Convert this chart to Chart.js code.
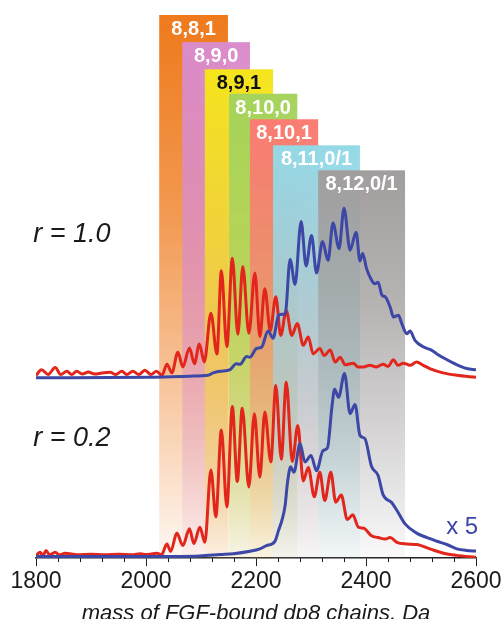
<!DOCTYPE html>
<html>
<head>
<meta charset="utf-8">
<script src="https://cdn.jsdelivr.net/npm/chart.js@4/dist/chart.umd.min.js"></script>
<style>
  html, body { margin: 0; padding: 0; background: #fff; }
</style>
</head>
<body>
<canvas id="chart" width="502" height="619"></canvas>
<script>
// masses in Da, intensities in arbitrary units (0..100 = full plot height)
// the r = 1.0 traces sit on a shifted baseline
const TOP_OFFSET = 33;

const topRedMass = [1800,1810,1822,1835,1845,1856,1865,1874,1884,1895,1907,1920,1935,1945,1956,1965,1976,1987,1998,2009,2019,2029,2038,2047,2058,2067,2079,2088,2097,2106,2118,2129,2137,2147,2157,2167,2176,2187,2198,2207,2216,2226,2236,2245,2255,2265,2275,2286,2295,2304,2316,2324,2335,2344,2353,2362,2377,2385,2395,2407,2419,2431,2440,2450,2458,2468,2480,2492,2504,2516,2540,2565,2600];
const topRedInt = [0.6,1.7,0.8,2.1,0.8,1.4,0.8,1.4,0.9,1.25,0.9,1.1,1.2,0.8,1.4,0.8,1.4,0.8,1.6,0.8,1.4,0.65,2.7,1.1,4.9,2.2,5.7,2.8,6.4,3.1,12.1,4.6,19.9,5.9,22.2,8.2,20.7,8.4,19.5,7.8,16.6,8.9,15.1,8.0,12.6,8.0,10.2,6.2,7.7,4.6,5.6,4.3,5.3,3.1,4.0,2.6,2.9,2.2,2.2,2.5,2.2,2.7,2.3,3.5,2.5,2.9,2.5,3.1,2.5,1.9,1.1,0.65,0.3];

const topBlueMass = [1800,2007,2080,2113,2122,2135,2153,2164,2171,2183,2189,2201,2210,2222,2231,2241,2247,2253,2262,2271,2282,2291,2301,2310,2321,2331,2340,2351,2360,2371,2382,2389,2394,2401,2410,2416,2422,2429,2435,2444,2450,2459,2465,2474,2480,2489,2504,2519,2529,2544,2559,2583,2600];
const topBlueInt = [0.2,0.3,0.5,0.65,1.1,1.4,1.7,2.8,2.7,4.1,4.0,5.6,5.8,8.8,7.5,11.7,11.9,11.9,22.0,17.4,29.0,20.8,26.4,19.5,25.3,21.8,28.7,24.0,31.4,23.7,27.0,21.7,23.1,20.3,18.2,17.5,17.8,15.4,15.1,13.2,11.4,11.7,10.2,8.3,8.8,7.1,5.9,5.3,4.6,3.7,2.9,1.9,1.7];

const bottomRedMass = [1800,1807,1813,1818,1825,1835,1842,1853,1875,1900,1925,1950,1975,1990,2000,2020,2028,2038,2045,2056,2067,2079,2087,2098,2107,2118,2127,2137,2147,2157,2166,2175,2187,2197,2207,2216,2227,2236,2246,2255,2266,2276,2286,2295,2306,2316,2325,2336,2345,2355,2366,2376,2386,2396,2410,2422,2435,2444,2456,2474,2492,2516,2541,2565,2600];
const bottomRedInt = [0.45,1.1,0.45,1.4,0.6,1.1,0.6,0.9,0.6,0.7,0.6,0.7,0.6,0.8,0.65,0.9,0.6,2.6,1.25,4.6,2.3,5.4,2.7,5.7,2.9,16.2,7.6,23.6,9.4,27.9,14.1,27.6,13.1,26.6,14.9,26.9,17.7,31.8,18.2,32.4,17.8,24.4,14.2,16.7,11.3,15.8,10.6,15.8,10.3,11.6,7.1,8.0,5.7,5.5,4.1,3.8,3.5,3.8,2.9,2.6,2.5,1.7,0.9,0.5,0.15];

const bottomBlueMass = [1800,2007,2098,2135,2159,2189,2207,2219,2229,2235,2241,2247,2253,2257,2263,2269,2280,2289,2300,2310,2322,2330,2338,2343,2350,2361,2371,2380,2389,2398,2410,2422,2431,2447,2456,2471,2492,2510,2529,2547,2565,2583,2600];
const bottomBlueInt = [0.3,0.3,0.4,0.65,0.8,1.25,1.7,2.3,2.6,3.2,5.1,6.9,9.7,13.7,16.8,15.8,21.1,17.7,18.9,16.1,19.8,20.3,27.8,31.1,29.6,34.0,26.6,28.3,22.6,22.0,16.9,15.2,11.7,10.2,8.8,6.3,4.6,3.8,3.1,2.5,1.7,1.4,1.3];

// composition bands (mass windows) and where their label boxes start
const bandLabels = ["8,8,1", "8,9,0", "8,9,1", "8,10,0", "8,10,1", "8,11,0/1", "8,12,0/1"];
const bandFrom = [2024, 2066, 2107, 2151, 2189, 2231, 2313];
const bandTo = [2149, 2189, 2231, 2275, 2313, 2389, 2471];
const bandTop = [100, 95, 90, 85.5, 80.8, 76, 71.4];

const bandColors = ["#ee7a1c", "#da8ccb", "#f5e41c", "#a5d35c", "#fa7c72", "#95d9e6", "#a29e9e"];
const bandTextColors = ["#fff", "#fff", "#111", "#fff", "#fff", "#fff", "#fff"];

const RED = "#e2261c";
const BLUE = "#3c47a6";
const FONT = "'Liberation Sans', Arial, sans-serif";
const MINOR_STEP = 40;


function points(mass, values, offset = 0) {
    return mass.map((m, i) => ({ x: m, y: values[i] + offset }));
}

function rgba(hex, a) {
    var n = parseInt(hex.slice(1), 16);
    return "rgba(" + (n >> 16) + "," + ((n >> 8) & 255) + "," + (n & 255) + "," + a + ")";
}

function line(data, color) {
    return {
        data: data,
        borderColor: color,
        borderWidth: 3,
        pointRadius: 0,
        cubicInterpolationMode: "monotone",
        fill: false,
    };
}


// shaded composition windows with their labels on top
const bandsPlugin = {
    id: "bands",
    beforeDatasetsDraw(chart) {
        const ctx = chart.ctx;
        const x = chart.scales.x, y = chart.scales.y;
        const bottom = y.getPixelForValue(0);
        ctx.save();
        for (var i = 0; i < bandLabels.length; i++) {
            const left = x.getPixelForValue(bandFrom[i]);
            const right = x.getPixelForValue(bandTo[i]);
            const top = y.getPixelForValue(bandTop[i]);
            const grad = ctx.createLinearGradient(0, top, 0, bottom);
            grad.addColorStop(0, rgba(bandColors[i], 1));
            grad.addColorStop(0.35, rgba(bandColors[i], 0.78));
            grad.addColorStop(0.65, rgba(bandColors[i], 0.47));
            grad.addColorStop(1, rgba(bandColors[i], 0.06));
            ctx.fillStyle = grad;
            ctx.fillRect(left, top, right - left, bottom - top);

            ctx.fillStyle = bandTextColors[i];
            ctx.font = "bold 20px " + FONT;
            ctx.textAlign = "center";
            ctx.textBaseline = "middle";
            ctx.fillText(bandLabels[i], (left + right) / 2, y.getPixelForValue(bandTop[i] - 2.5) + 1);
        }
        ctx.restore();
    },
    afterDraw(chart) {
        const ctx = chart.ctx;
        const x = chart.scales.x, y = chart.scales.y;
        ctx.save();
        // minor ticks
        ctx.strokeStyle = "#222";
        ctx.lineWidth = 1;
        const axisY = x.top;
        for (var v = x.min; v <= x.max; v += MINOR_STEP) {
            if (v % 200 == 0)
                continue;
            const px = Math.round(x.getPixelForValue(v)) + 0.5;
            ctx.beginPath();
            ctx.moveTo(px, axisY);
            ctx.lineTo(px, axisY + 4);
            ctx.stroke();
        }
        // panel labels
        ctx.fillStyle = "#1a1a1a";
        ctx.font = "italic 27px " + FONT;
        ctx.textAlign = "left";
        ctx.textBaseline = "alphabetic";
        ctx.fillText("r = 1.0", x.getPixelForValue(1795), y.getPixelForValue(58.2));
        ctx.fillText("r = 0.2", x.getPixelForValue(1795), y.getPixelForValue(20.7));
        ctx.fillStyle = BLUE;
        ctx.font = "24px " + FONT;
        ctx.textAlign = "right";
        ctx.fillText("x 5", x.getPixelForValue(2604), y.getPixelForValue(4.5));
        ctx.restore();
    }
};


chart = new Chart(document.getElementById("chart"), {
    type: "line",
    data: {
        datasets: [
            line(points(topBlueMass, topBlueInt, TOP_OFFSET), BLUE),
            line(points(topRedMass, topRedInt, TOP_OFFSET), RED),
            line(points(bottomBlueMass, bottomBlueInt), BLUE),
            line(points(bottomRedMass, bottomRedInt), RED),
        ]
    },
    options: {
        responsive: false,
        animation: false,
        devicePixelRatio: 1,
        layout: { padding: { left: 36, right: 26, top: 15, bottom: 0 } },
        plugins: {
            legend: { display: false },
            tooltip: { enabled: false },
        },
        scales: {
            x: {
                type: "linear",
                min: 1800,
                max: 2600,
                // the end labels fit in the page margins, so keep the plot width fixed
                afterFit: (scale) => {
                    scale.paddingLeft = 0;
                    scale.paddingRight = 0;
                },
                ticks: {
                    stepSize: 200,
                    color: "#1a1a1a",
                    padding: 4.5,
                    maxRotation: 0,
                    font: { family: FONT, size: 23, lineHeight: 1.0 },
                    callback: (value) => String(value),
                },
                grid: {
                    drawOnChartArea: false,
                    tickLength: 8,
                    tickColor: "#222",
                    tickWidth: 1,
                },
                border: { color: "#222", width: 1.5 },
                title: {
                    display: true,
                    text: "mass of FGF-bound dp8 chains, Da",
                    color: "#1a1a1a",
                    font: { family: FONT, size: 22, style: "italic", lineHeight: 0.45 },
                    padding: { top: 11, bottom: 0 },
                },
            },
            y: {
                display: false,
                min: 0,
                max: 100,
            }
        }
    },
    plugins: [bandsPlugin]
});
</script>
</body>
</html>
